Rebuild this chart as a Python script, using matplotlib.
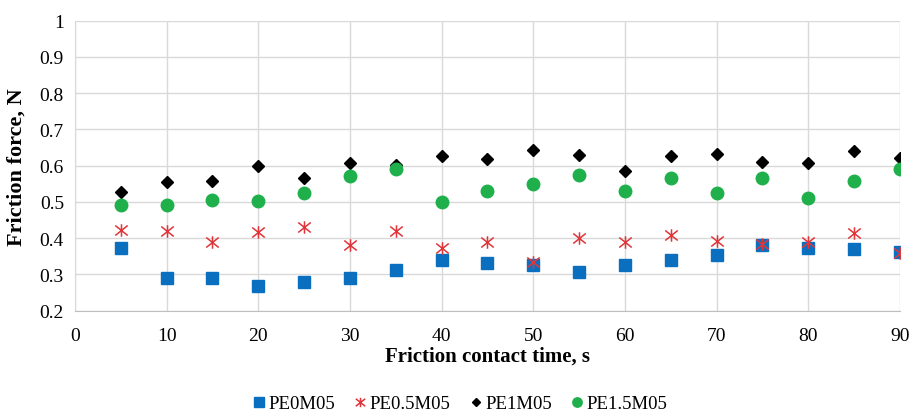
import matplotlib
matplotlib.use("Agg")
import matplotlib.pyplot as plt
from matplotlib.path import Path

time_s = [5, 10, 15, 20, 25, 30, 35, 40, 45, 50, 55, 60, 65, 70, 75, 80, 85, 90]
pe0m05 = [0.372, 0.291, 0.291, 0.268, 0.278, 0.290, 0.313, 0.341, 0.332, 0.326,
          0.308, 0.326, 0.341, 0.355, 0.382, 0.372, 0.369, 0.363]
pe05m05 = [0.424, 0.420, 0.389, 0.416, 0.430, 0.382, 0.421, 0.373, 0.389, 0.334,
           0.402, 0.389, 0.409, 0.393, 0.385, 0.390, 0.414, 0.359]
pe1m05 = [0.527, 0.556, 0.559, 0.598, 0.565, 0.607, 0.603, 0.628, 0.618, 0.644,
          0.630, 0.585, 0.626, 0.632, 0.611, 0.607, 0.641, 0.620]
pe15m05 = [0.492, 0.492, 0.505, 0.503, 0.524, 0.571, 0.591, 0.499, 0.531, 0.549,
           0.574, 0.531, 0.566, 0.524, 0.566, 0.512, 0.557, 0.591]
series_names = ["PE0M05", "PE0.5M05", "PE1M05", "PE1.5M05"]
x_ticks = [0, 10, 20, 30, 40, 50, 60, 70, 80, 90]
y_ticks = [0.2, 0.3, 0.4, 0.5, 0.6, 0.7, 0.8, 0.9, 1.0]
y_tick_labels = ["0.2", "0.3", "0.4", "0.5", "0.6", "0.7", "0.8", "0.9", "1"]

plt.rcParams['font.family'] = ['Liberation Serif', 'DejaVu Serif']

star = Path([(-1, -0.8), (1, 0.8), (-1, 0.8), (1, -0.8), (0, -1), (0, 1)],
            [Path.MOVETO, Path.LINETO, Path.MOVETO, Path.LINETO, Path.MOVETO, Path.LINETO])

fig = plt.figure(figsize=(9.09, 4.14), dpi=100)
ax = fig.add_axes([0.0825, 0.247, 0.9075, 0.7006])

ax.plot(time_s, pe0m05, linestyle='none', marker='s', markersize=9,
        color='#0b6fc0', label=series_names[0])
ax.plot(time_s, pe05m05, linestyle='none', marker=star, markersize=9,
        markerfacecolor='none', markeredgecolor='#e0353a', markeredgewidth=1.1,
        label=series_names[1])
ax.plot(time_s, pe1m05, linestyle='none', marker='D', markersize=6,
        color='#000000', label=series_names[2])
ax.plot(time_s, pe15m05, linestyle='none', marker='o', markersize=9,
        color='#1fb04c', label=series_names[3])

ax.set_xlim(0, 90)
ax.set_ylim(0.2, 1.0)
ax.set_xticks(x_ticks)
ax.set_yticks(y_ticks)
ax.set_yticklabels(y_tick_labels)
ax.tick_params(length=0, labelsize=14, colors='#000000')
ax.tick_params(axis='x', pad=12)
ax.tick_params(axis='y', pad=8)
ax.grid(True, color='#d9d9d9', linewidth=1)
ax.set_axisbelow(True)
for s in ['top', 'right']:
    ax.spines[s].set_visible(False)
ax.spines['left'].set_color('#d9d9d9')
ax.spines['bottom'].set_color('#bfbfbf')

ax.set_xlabel("Friction contact time, s", fontsize=15, fontweight='bold', labelpad=1)
ax.set_ylabel("Friction force, N", fontsize=16, fontweight='bold', labelpad=9)

fig.legend(loc='center', bbox_to_anchor=(0.505, 0.022), ncol=4, frameon=False,
           fontsize=13.5, handletextpad=0.05, columnspacing=0.9, handlelength=0.9,
           markerscale=0.75)

fig.savefig("out.png", dpi=100)
